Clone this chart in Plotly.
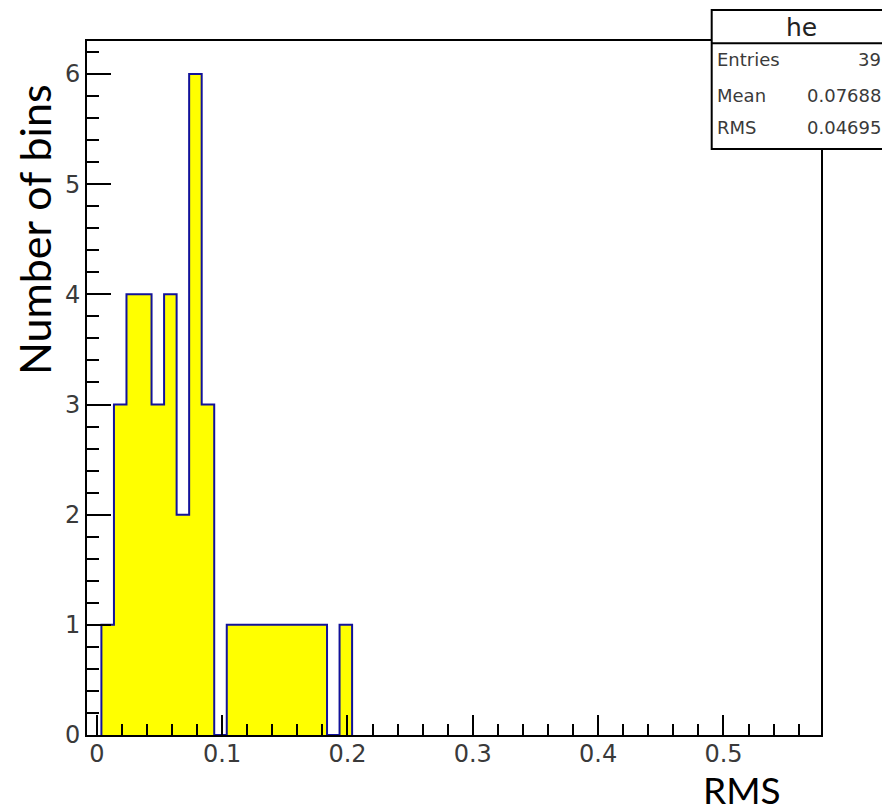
import plotly.graph_objects as go

# ---- data ----
bin_start = 0.0037
bin_width = 0.01
counts = [1, 3, 4, 4, 3, 4, 2, 6, 3, 0, 1, 1, 1, 1, 1, 1, 1, 1, 0, 1]
x_tick_vals = [0, 0.1, 0.2, 0.3, 0.4, 0.5]
x_tick_text = ["0", "0.1", "0.2", "0.3", "0.4", "0.5"]
y_tick_vals = [0, 1, 2, 3, 4, 5, 6]
hist_name = "he"
stat_labels = ["Entries", "Mean", "RMS"]
stat_values = ["39", "0.07688", "0.04695"]
x_title = "RMS"
y_title = "Number of bins"

# ---- layout geometry (reference pixels; page body has an 8px margin) ----
OFF = 8
W, H = 890 - OFF, 812 - OFF
PL, PR, PT, PB = 87, 821, 41, 735          # plot frame in reference pixels
L, T = PL - OFF, PT - OFF
R, B = W - (PR - OFF), H - (PB - OFF)
PW, PH = PR - PL, PB - PT


def px(xp):
    return (xp - PL) / PW


def py(yp):
    return (PB - yp) / PH


edges = [bin_start + i * bin_width for i in range(len(counts) + 1)]
xs = [edges[0]] + edges[:-1] + [edges[-1]]
ys = [0] + counts + [0]

fig = go.Figure()
fig.add_trace(go.Scatter(
    x=xs, y=ys, mode="lines", line=dict(shape="hv", color="#12129a", width=2),
    fill="tozeroy", fillcolor="#ffff00", showlegend=False, hoverinfo="skip",
))

tickfont = dict(family="DejaVu Sans", size=24, color="#3a3a3a")

fig.update_layout(
    width=W, height=H,
    margin=dict(l=L, r=R, t=T, b=B, pad=0),
    paper_bgcolor="white", plot_bgcolor="white",
    showlegend=False,
    xaxis=dict(
        range=[-0.0078, 0.5778], showgrid=False, zeroline=False,
        showline=True, linecolor="black", linewidth=2, mirror=True,
        ticks="inside", ticklen=20, tickwidth=2, tickcolor="black",
        tickvals=x_tick_vals, ticktext=x_tick_text, tickfont=tickfont,
        minor=dict(dtick=0.02, tick0=0, ticks="inside", ticklen=11, tickwidth=2, tickcolor="black"),
        ticklabelstandoff=-4,
    ),
    yaxis=dict(
        range=[0, 6.3], showgrid=False, zeroline=False,
        showline=True, linecolor="black", linewidth=2, mirror=True,
        ticks="inside", ticklen=24, tickwidth=2, tickcolor="black",
        tickvals=y_tick_vals, tickfont=tickfont,
        minor=dict(dtick=0.2, tick0=0, ticks="inside", ticklen=12, tickwidth=2, tickcolor="black"),
        ticklabelstandoff=0,
    ),
)

# stats box
box_left, box_right, box_top, box_bottom, box_sep = 711.7, 895, 10, 149, 43.3
fig.add_shape(type="rect", xref="paper", yref="paper",
              x0=px(box_left), x1=px(box_right), y0=py(box_bottom), y1=py(box_top),
              line=dict(color="black", width=2), fillcolor="white", layer="above")
fig.add_shape(type="line", xref="paper", yref="paper",
              x0=px(box_left), x1=px(box_right), y0=py(box_sep), y1=py(box_sep),
              line=dict(color="black", width=2), layer="above")

fig.add_annotation(text=hist_name, xref="paper", yref="paper", x=px(801), y=py(27),
                   xanchor="center", yanchor="middle", showarrow=False,
                   font=dict(family="DejaVu Sans", size=25, color="#222"))
row_y = [59, 96, 128]
for lab, val, yy in zip(stat_labels, stat_values, row_y):
    fig.add_annotation(text=lab, xref="paper", yref="paper", x=px(715), y=py(yy),
                       xanchor="left", yanchor="middle", showarrow=False,
                       font=dict(family="DejaVu Sans", size=18, color="#3a3a3a"))
    fig.add_annotation(text=val, xref="paper", yref="paper", x=px(883), y=py(yy),
                       xanchor="right", yanchor="middle", showarrow=False,
                       font=dict(family="DejaVu Sans", size=18, color="#3a3a3a"))

# axis titles (added as text labels)
fig.add_annotation(text=y_title, xref="paper", yref="paper", x=px(34), y=py(230),
                   xanchor="center", yanchor="middle", textangle=-90, showarrow=False,
                   font=dict(family="Lato", size=43, color="black"))
fig.add_annotation(text=x_title, xref="paper", yref="paper", x=px(742), y=py(789),
                   xanchor="center", yanchor="middle", showarrow=False,
                   font=dict(family="Lato", size=37, color="black"))

fig.write_html("out.html")
